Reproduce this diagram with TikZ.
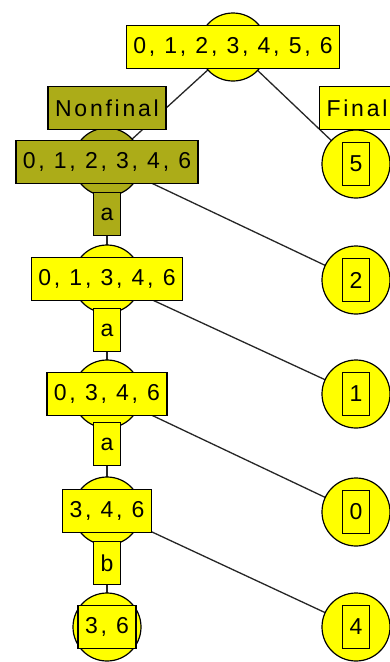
\documentclass[tikz,border=0pt]{standalone}
\usepackage{fontspec}
\setmainfont{Liberation Sans}[LetterSpace=12]
\usetikzlibrary{backgrounds}
\definecolor{setyellow}{RGB}{255,255,0}
\definecolor{setolive}{RGB}{172,172,24}
\tikzset{
  blob/.style={circle,draw=black,line width=1.2pt,fill=setyellow,minimum size=68pt,inner sep=0pt},
  setbox/.style={rectangle,draw=black,line width=1.3pt,fill=setyellow,minimum height=43pt,
    inner xsep=7pt,inner ysep=0pt,font=\fontsize{23}{27}\selectfont},
  symbox/.style={setbox,minimum width=27pt,inner xsep=0pt},
  olive/.style={fill=setolive},
  link/.style={draw=black!85,line width=1.3pt}
}
\begin{document}
\begin{tikzpicture}[x=1pt,y=-1pt]
        \useasboundingbox (0,0) rectangle (389,662);
        %% Partition tree
        \node[blob] (c0) at (233,47) {};
        \node[setbox] (t0) at (233,47) {0, 1, 2, 3, 4, 5, 6};
        \node[blob,olive] (c1) at (107,162) {};
        \node[setbox,olive] (t1) at (107,162) {0, 1, 2, 3, 4, 6};
        \node[blob] (c2) at (107,279) {};
        \node[setbox] (t2) at (107,279) {0, 1, 3, 4, 6};
        \node[blob] (c3) at (107,394) {};
        \node[setbox] (t3) at (107,394) {0, 3, 4, 6};
        \node[blob] (c4) at (107,511) {};
        \node[setbox] (t4) at (107,511) {3, 4, 6};
        \node[blob] (c5) at (107,627) {};
        \node[setbox] (t5) at (107,627) {3, 6};
        %% Final states
        \node[blob] (f5) at (356,164) {};
        \node[symbox] at (356,164) {5};
        \node[blob] (f2) at (356,280) {};
        \node[symbox] at (356,280) {2};
        \node[blob] (f1) at (356,394) {};
        \node[symbox] at (356,394) {1};
        \node[blob] (f0) at (356,512) {};
        \node[symbox] at (356,512) {0};
        \node[blob] (f4) at (356,627) {};
        \node[symbox] at (356,627) {4};
        %% Links
        \begin{pgfonlayer}{background}
        \fill[white] (0,0) rectangle (389,662);
        \draw[link] (c0.center) -- (c1.center);
        \draw[link] (c0.center) -- (f5.center);
        \draw[link] (c1.center) -- (c2.center);
        \draw[link] (c1.center) -- (f2.center);
        \draw[link] (c2.center) -- (c3.center);
        \draw[link] (c2.center) -- (f1.center);
        \draw[link] (c3.center) -- (c4.center);
        \draw[link] (c3.center) -- (f0.center);
        \draw[link] (c4.center) -- (c5.center);
        \draw[link] (c4.center) -- (f4.center);
        \end{pgfonlayer}
        %% Labels
        \node[setbox,olive] (nonfinal) at (107,108) {Nonfinal};
        \node[setbox] (final) at (357,108) {Final};
        \node[symbox,olive] (a1) at (107,214) {a};
        \node[symbox] (a2) at (107,330) {a};
        \node[symbox] (a3) at (107,444) {a};
        \node[symbox] (b4) at (107,563) {b};
    \end{tikzpicture}
\end{document}
